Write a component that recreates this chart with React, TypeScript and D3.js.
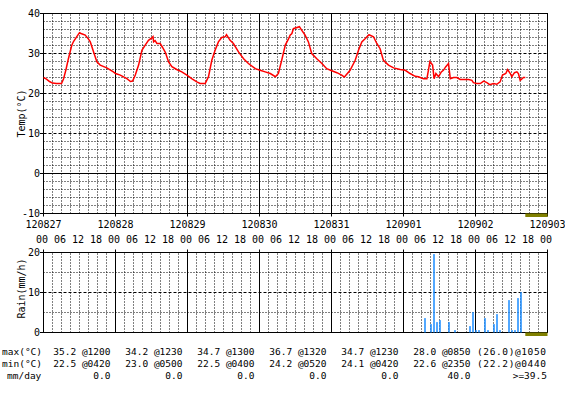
import React, { useEffect, useRef } from "react";
import * as d3 from "d3";

// date / hour tick labels
const dayLabels = ["120827", "120828", "120829", "120830", "120831", "120901", "120902", "120903"];
const hourLabels = ["00", "06", "12", "18"];

// temperature, hours since 120827 00:00
const tempHours = [
  0, 1, 2, 3, 4.3, 6, 6.7, 7.5, 8.3, 9.4, 10, 11.1, 12, 12.5, 13.9, 15, 15.6, 16.7, 17.8, 18.9, 21.1, 23.3, 24,
  25.6, 27.8, 29, 29.7, 30.6, 31.7, 32.8, 33.9, 35, 36.1, 36.5, 36.7, 37.2, 37.8, 38.9, 39.7, 40.6, 41.7, 42.8, 44.4, 46.1, 47.8,
  49.4, 51.1, 52.2, 53.9, 55, 56.1, 57.2, 58.3, 59.4, 60.6, 61, 62.2, 63.3, 65, 66.7, 68.3, 70.6, 72.2,
  73.9, 75.6, 77.3, 78.3, 79.4, 80.6, 81.7, 82.2, 82.8, 83.3, 85.3, 86.1, 87.2, 88.3, 89.4, 91.1, 92.8, 94.4, 96.1,
  97.8, 99.4, 100.3, 102.2, 103.9, 105, 106.1, 107.2, 108.5, 110, 111.1, 112.2, 113.3, 115, 116.7, 118.9, 120.6,
  122.2, 123.9, 125, 125.6, 126.7, 127.8, 128.3, 128.8, 129.7, 130.2, 130.8, 131.7, 132.6, 133.3, 134.1, 135, 135.6, 136.7, 137.8, 138.9, 141.7, 142.8, 143.3,
  144.4, 145.6, 146.7, 147.8, 148.7, 150, 151.1, 152.2, 153, 154.1, 154.7, 155.6, 156.1, 157, 157.8, 158.3, 158.9, 160, 160.6,
];
const tempValues = [
  24.0, 23.6, 23.0, 22.6, 22.5, 22.5, 23.7, 26.0, 28.7, 32.0, 33.0, 34.2, 35.2, 35.0, 34.6, 33.6, 32.9, 30.4, 27.9, 27.1, 26.4, 25.4, 25.0,
  24.6, 23.7, 23.0, 23.1, 24.6, 27.1, 30.8, 32.1, 33.3, 33.9, 34.2, 32.9, 33.2, 32.5, 32.5, 31.5, 30.3, 27.9, 26.7, 26.0, 25.4, 24.6,
  23.7, 22.9, 22.5, 22.5, 24.2, 28.3, 30.8, 32.9, 34.0, 34.2, 34.7, 33.3, 32.5, 30.4, 28.7, 27.5, 26.2, 25.8,
  25.4, 25.0, 24.2, 25.0, 28.3, 32.1, 33.7, 34.6, 35.0, 36.2, 36.7, 35.8, 34.6, 32.9, 30.0, 28.7, 27.5, 26.2, 25.7,
  25.2, 24.6, 24.1, 25.8, 28.3, 30.8, 32.9, 33.7, 34.7, 34.2, 32.5, 31.2, 28.3, 27.1, 26.4, 26.0, 25.8,
  25.0, 24.3, 24.2, 24.0, 23.7, 23.7, 25.8, 28.0, 27.1, 23.7, 25.0, 24.2, 25.4, 25.8, 26.7, 27.5, 23.7, 24.0, 24.0, 23.5, 23.5, 23.3, 22.7,
  22.5, 22.5, 23.1, 22.7, 22.2, 22.5, 22.3, 22.9, 24.6, 25.0, 26.0, 25.0, 24.2, 25.2, 25.4, 25.0, 23.3, 24.0, 24.0,
];

// hourly rain (mm/h)
const rainHours = [127, 129, 130, 131, 132, 135, 137, 142, 143, 144, 145, 147, 148, 150, 151, 152, 155, 156, 157, 158, 159];
const rainValues = [3.6, 2.1, 19.6, 2.6, 3.1, 2.6, 0.6, 1.6, 5.1, 0.6, 0.6, 3.6, 0.6, 2.1, 4.6, 0.6, 8.1, 0.6, 0.6, 8.6, 10.1];

// daily summary table
const maxTemps = ["35.2", "34.2", "34.7", "36.7", "34.7", "28.0", "(26.0)"];
const maxTimes = ["1200", "1230", "1300", "1320", "1230", "0850", "1050"];
const minTemps = ["22.5", "23.0", "22.5", "24.2", "24.1", "22.6", "(22.2)"];
const minTimes = ["0420", "0500", "0400", "0520", "0420", "2350", "0440"];
const rainDaily = ["0.0", "0.0", "0.0", "0.0", "0.0", "40.0", ">=39.5"];

const FONT = "DejaVu Sans Mono";

function App() {
  const ref = useRef(null);

  useEffect(() => {
    const svg = d3.select(ref.current);
    svg.selectAll("*").remove();

    const x = d3.scaleLinear().domain([0, 168]).range([43.5, 547.5]);
    const yT = d3.scaleLinear().domain([-10, 40]).range([213.5, 13.5]);
    const yR = d3.scaleLinear().domain([0, 20]).range([332.5, 252.5]);
    const lastHour = tempHours[tempHours.length - 1];

    const grid = (g, y, lo, hi, dotStep, dashVals, solidVals) => {
      // horizontal dotted
      d3.range(lo + dotStep, hi, dotStep)
        .filter((v) => !dashVals.includes(v) && !solidVals.includes(v))
        .forEach((v) => {
          g.append("line").attr("x1", x(0)).attr("x2", x(168)).attr("y1", y(v)).attr("y2", y(v))
            .attr("stroke", "#000").attr("stroke-dasharray", "1,2");
        });
      dashVals.forEach((v) => {
        g.append("line").attr("x1", x(0)).attr("x2", x(168)).attr("y1", y(v)).attr("y2", y(v))
          .attr("stroke", "#000").attr("stroke-dasharray", "3,2");
      });
      solidVals.forEach((v) => {
        g.append("line").attr("x1", x(0)).attr("x2", x(168)).attr("y1", y(v)).attr("y2", y(v))
          .attr("stroke", "#000");
      });
      // vertical lines every 3h, solid at day boundaries
      d3.range(3, 168, 3).forEach((h) => {
        const day = h % 24 === 0;
        g.append("line").attr("x1", x(h)).attr("x2", x(h)).attr("y1", y(lo)).attr("y2", y(hi))
          .attr("stroke", "#000").attr("stroke-dasharray", day ? null : "1,2");
      });
      // frame
      g.append("rect").attr("x", x(0)).attr("y", y(hi)).attr("width", x(168) - x(0)).attr("height", y(lo) - y(hi))
        .attr("fill", "none").attr("stroke", "#000");
    };

    // ---- temperature panel
    const top = svg.append("g");
    grid(top, yT, -10, 40, 2, [10, 20, 30], [0]);

    [40, 30, 20, 10, 0, -10].forEach((v) => {
      top.append("line").attr("x1", 40).attr("x2", x(0)).attr("y1", yT(v)).attr("y2", yT(v)).attr("stroke", "#000");
      top.append("text").attr("x", 40).attr("y", yT(v)).attr("dy", "0.36em").attr("text-anchor", "end")
        .attr("font-size", 10).attr("font-family", FONT).text(v);
    });
    d3.range(0, 169, 24).forEach((h) => {
      top.append("line").attr("x1", x(h)).attr("x2", x(h)).attr("y1", yT(-10)).attr("y2", yT(-10) + 3).attr("stroke", "#000");
    });

    top.append("text").attr("transform", `translate(25,${(yT(40) + yT(-10)) / 2}) rotate(-90)`)
      .attr("text-anchor", "middle").attr("font-size", 10).attr("font-family", FONT).text("Temp(°C)");

    const line = d3.line().x((d) => x(d[0])).y((d) => yT(d[1]));
    top.append("path").datum(tempHours.map((h, i) => [h, tempValues[i]]))
      .attr("d", line).attr("fill", "none").attr("stroke", "#ff0000").attr("stroke-width", 1.5);

    top.append("rect").attr("x", x(lastHour)).attr("y", yT(-10)).attr("width", x(168) - x(lastHour)).attr("height", 3.5)
      .attr("fill", "#808000");

    // ---- x labels
    dayLabels.forEach((d, i) => {
      svg.append("text").attr("x", x(i * 24)).attr("y", 228).attr("text-anchor", "middle")
        .attr("font-size", 10).attr("font-family", FONT).text(d);
    });
    d3.range(0, 169, 6).forEach((h, i) => {
      svg.append("text").attr("x", x(h) - 1.5).attr("y", 243).attr("text-anchor", "middle")
        .attr("font-size", 10).attr("font-family", FONT).text(hourLabels[i % 4]);
    });

    // ---- rain panel
    const bot = svg.append("g");
    grid(bot, yR, 0, 20, 5, [10], []);
    [20, 10, 0].forEach((v) => {
      bot.append("line").attr("x1", 40).attr("x2", x(0)).attr("y1", yR(v)).attr("y2", yR(v)).attr("stroke", "#000");
      bot.append("text").attr("x", 40).attr("y", yR(v)).attr("dy", "0.36em").attr("text-anchor", "end")
        .attr("font-size", 10).attr("font-family", FONT).text(v);
    });
    d3.range(0, 169, 24).forEach((h) => {
      bot.append("line").attr("x1", x(h)).attr("x2", x(h)).attr("y1", yR(20) - 3).attr("y2", yR(20)).attr("stroke", "#000");
    });
    bot.append("text").attr("transform", `translate(25,${(yR(20) + yR(0)) / 2 - 4}) rotate(-90)`)
      .attr("text-anchor", "middle").attr("font-size", 10).attr("font-family", FONT).text("Rain(mm/h)");

    bot.selectAll(".bar").data(rainHours.map((h, i) => [h, rainValues[i]])).join("rect")
      .attr("class", "bar")
      .attr("x", (d) => x(d[0]) - 0.25)
      .attr("y", (d) => yR(d[1]))
      .attr("width", 1.5)
      .attr("height", (d) => yR(0) - yR(d[1]))
      .attr("fill", "#1a8cff");

    bot.append("rect").attr("x", x(lastHour)).attr("y", yR(0)).attr("width", x(168) - x(lastHour)).attr("height", 3.5)
      .attr("fill", "#808000");

    // ---- summary table
    const rows = [
      { label: "max(°C)", y: 355, vals: maxTemps, times: maxTimes },
      { label: "min(°C)", y: 367, vals: minTemps, times: minTimes },
    ];
    rows.forEach((r) => {
      svg.append("text").attr("x", 2).attr("y", r.y).attr("font-size", 9.5).attr("font-family", FONT).text(r.label);
      r.vals.forEach((v, k) => {
        const last = k === r.vals.length - 1;
        const t = svg.append("text").attr("y", r.y).attr("font-size", 9.5).attr("font-family", FONT);
        if (last) {
          t.attr("x", 477).attr("textLength", 69).attr("lengthAdjust", "spacing").text(`${v}@${r.times[k]}`);
        } else {
          t.attr("x", x(24 * (k + 1)) - 5).attr("text-anchor", "end").text(`${v} @${r.times[k]}`);
        }
      });
    });
    svg.append("text").attr("x", 7).attr("y", 379).attr("font-size", 9.5).attr("font-family", FONT).text("mm/day");
    rainDaily.forEach((v, k) => {
      const last = k === rainDaily.length - 1;
      svg.append("text").attr("x", last ? 547 : x(24 * (k + 1)) - 5).attr("y", 379).attr("text-anchor", "end")
        .attr("font-size", 9.5).attr("font-family", FONT).text(v);
    });
  }, []);

  return (
    <svg ref={ref} width={565} height={397}
      style={{ position: "absolute", left: 0, top: 0, background: "#fff" }} />
  );
}

export default App;
